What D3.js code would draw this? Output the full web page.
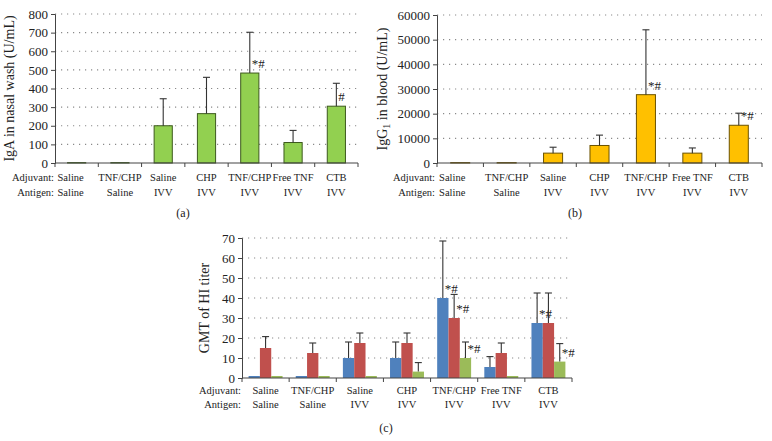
<!DOCTYPE html>
<html><head><meta charset="utf-8">
<script src="https://cdn.jsdelivr.net/npm/d3@7/dist/d3.min.js"></script>
<style>
body{margin:0;background:#fff;}
svg text{font-family:"Liberation Serif","Times New Roman",serif;fill:#222;}
</style></head>
<body><svg id="c" width="772" height="441"></svg>
<script>
// ---- data ----
const adjuvant = ["Saline","TNF/CHP","Saline","CHP","TNF/CHP","Free TNF","CTB"];
const antigen  = ["Saline","Saline","IVV","IVV","IVV","IVV","IVV"];

const igaValues = [2, 2, 200, 265, 483, 110, 305];
const igaUpper  = [2, 2, 345, 460, 702, 175, 428];
const igaMarks  = ["", "", "", "", "*#", "", "#"];
const igaTicks  = [0,100,200,300,400,500,600,700,800];

const iggValues = [150, 150, 4000, 7100, 27700, 4000, 15300];
const iggUpper  = [150, 150, 6400, 11300, 54000, 6100, 20200];
const iggMarks  = ["", "", "", "", "*#", "", "*#"];
const iggTicks  = [0,10000,20000,30000,40000,50000,60000];

const gmtBlue   = [1, 1, 10, 10, 40, 5.5, 27.5];
const gmtBlueUp = [1, 1, 18, 18, 68.5, 10.7, 42.5];
const gmtBlueMk = ["", "", "", "", "*#", "", "*#"];
const gmtRed    = [15, 12.5, 17.5, 17.5, 30, 12.5, 27.5];
const gmtRedUp  = [20.7, 17.5, 22.5, 22.5, 41.8, 17.5, 42.5];
const gmtRedMk  = ["", "", "", "", "*#", "", ""];
const gmtGreen  = [1, 1, 1, 3.2, 10, 1, 8.2];
const gmtGreenUp= [1, 1, 1, 7.7, 18, 1, 17.2];
const gmtGreenMk= ["", "", "", "", "*#", "", "*#"];
const gmtTicks  = [0,10,20,30,40,50,60,70];

// ---- drawing ----
const svg = d3.select("#c");

function panel(o){
  const g = svg.append("g");
  const x = d3.scaleBand().domain(d3.range(adjuvant.length)).range([o.x0, o.x1]);
  const y = d3.scaleLinear().domain([0, o.max]).range([o.yBot, o.yTop]);
  // grid
  g.selectAll("line.grid").data(o.ticks.filter(t=>t>0)).join("line")
    .attr("x1", o.x0).attr("x2", o.x1).attr("y1", d=>y(d)).attr("y2", d=>y(d))
    .attr("stroke", "#8a8a8a").attr("stroke-width", 1.1).attr("stroke-dasharray", "1.2,4.8");
  // y axis
  const ya = g.append("g").attr("transform", `translate(${o.x0},0)`)
    .call(d3.axisLeft(y).tickValues(o.ticks).tickSize(4).tickPadding(3).tickFormat(d3.format("d")));
  ya.attr("font-family", "Liberation Serif");
  ya.select(".domain").attr("stroke", "#444");
  ya.selectAll(".tick line").attr("stroke", "#444");
  ya.selectAll("text").attr("font-size", 13).attr("font-family", "Liberation Serif").attr("fill","#222");
  // bars
  const n = o.series.length;
  const sub = d3.scaleBand().domain(d3.range(n)).range([0, x.bandwidth()*o.groupFrac])
  o.series.forEach((s, si) => {
    const off = (x.bandwidth()*(1-o.groupFrac))/2 + sub(si);
    const bw = sub.bandwidth();
    g.selectAll(null).data(s.values).join("rect")
      .attr("x", (d,i)=>x(i)+off).attr("width", bw)
      .attr("y", d=>y(d)).attr("height", d=>o.yBot - y(d))
      .attr("fill", s.color).attr("stroke", s.stroke || "none").attr("stroke-width", 1);
    // error bars
    const cx = i => x(i)+off+bw/2;
    s.upper.forEach((u,i)=>{
      if (u <= s.values[i] + o.max*0.002) return;
      g.append("line").attr("x1",cx(i)).attr("x2",cx(i)).attr("y1",y(s.values[i])).attr("y2",y(u))
        .attr("stroke","#333").attr("stroke-width",1.1);
      g.append("line").attr("x1",cx(i)-3.5).attr("x2",cx(i)+3.5).attr("y1",y(u)).attr("y2",y(u))
        .attr("stroke","#333").attr("stroke-width",1.1);
    });
    s.marks.forEach((m,i)=>{
      if (!m) return;
      g.append("text").attr("x", cx(i)+2).attr("y", y(s.values[i]) - 5)
        .attr("font-size", 13).text(m);
    });
  });
  // x axis
  g.append("line").attr("x1",o.x0).attr("x2",o.x1).attr("y1",o.yBot).attr("y2",o.yBot)
    .attr("stroke","#444").attr("stroke-width",1.2);
  const bounds = d3.range(adjuvant.length+1).map(i => o.x0 + i*x.step());
  g.selectAll(null).data(bounds).join("line")
    .attr("x1",d=>d).attr("x2",d=>d).attr("y1",o.yBot).attr("y2",o.yBot+4)
    .attr("stroke","#444");
  // category labels
  [[adjuvant, o.row1], [antigen, o.row2]].forEach(([arr, yy]) => {
    g.selectAll(null).data(arr).join("text")
      .attr("x", (d,i)=>x(i)+x.bandwidth()/2 + (i===0 ? o.firstShift : 0))
      .attr("y", yy).attr("text-anchor","middle").attr("font-size", 10.5).text(d=>d);
  });
  g.append("text").attr("x", o.headX).attr("y", o.row1).attr("text-anchor","end").attr("font-size",10.5).text("Adjuvant:");
  g.append("text").attr("x", o.headX).attr("y", o.row2).attr("text-anchor","end").attr("font-size",10.5).text("Antigen:");
  // y label
  const yl = g.append("text").attr("transform", `translate(${o.ylabX},${(o.yTop+o.yBot)/2}) rotate(-90)`)
    .attr("text-anchor","middle").attr("font-size", 14);
  o.ylabel(yl);
  // panel tag
  g.append("text").attr("x", o.tagX).attr("y", o.tagY).attr("text-anchor","middle").attr("font-size",12).text(o.tag);
}

panel({x0:55, x1:358, yTop:14, yBot:163, max:800, ticks:igaTicks, groupFrac:0.42,
  series:[{values:igaValues, upper:igaUpper, marks:igaMarks, color:"#92d050", stroke:"#3d5a1e"}],
  row1:181, row2:196, headX:54, firstShift:-6, ylabX:14,
  ylabel: t=>t.text("IgA in nasal wash (U/mL)"), tag:"(a)", tagX:183, tagY:217});

panel({x0:437, x1:762, yTop:15, yBot:163, max:60000, ticks:iggTicks, groupFrac:0.41,
  series:[{values:iggValues, upper:iggUpper, marks:iggMarks, color:"#ffc000", stroke:"#6b5200"}],
  row1:181, row2:196, headX:435, firstShift:-8, ylabX:387,
  ylabel: t=>{t.append("tspan").text("IgG");
              t.append("tspan").attr("font-size",10).attr("dy",3).text("1");
              t.append("tspan").attr("dy",-3).text(" in blood (U/mL)");},
  tag:"(b)", tagX:575, tagY:217});

panel({x0:242, x1:572, yTop:238, yBot:378, max:70, ticks:gmtTicks, groupFrac:0.72,
  series:[
    {values:gmtBlue, upper:gmtBlueUp, marks:gmtBlueMk, color:"#4f81bd"},
    {values:gmtRed, upper:gmtRedUp, marks:gmtRedMk, color:"#c0504d"},
    {values:gmtGreen, upper:gmtGreenUp, marks:gmtGreenMk, color:"#9bbb59"}],
  row1:394, row2:408, headX:241, firstShift:0, ylabX:209,
  ylabel: t=>t.text("GMT of HI titer"), tag:"(c)", tagX:386, tagY:432});
</script></body></html>
